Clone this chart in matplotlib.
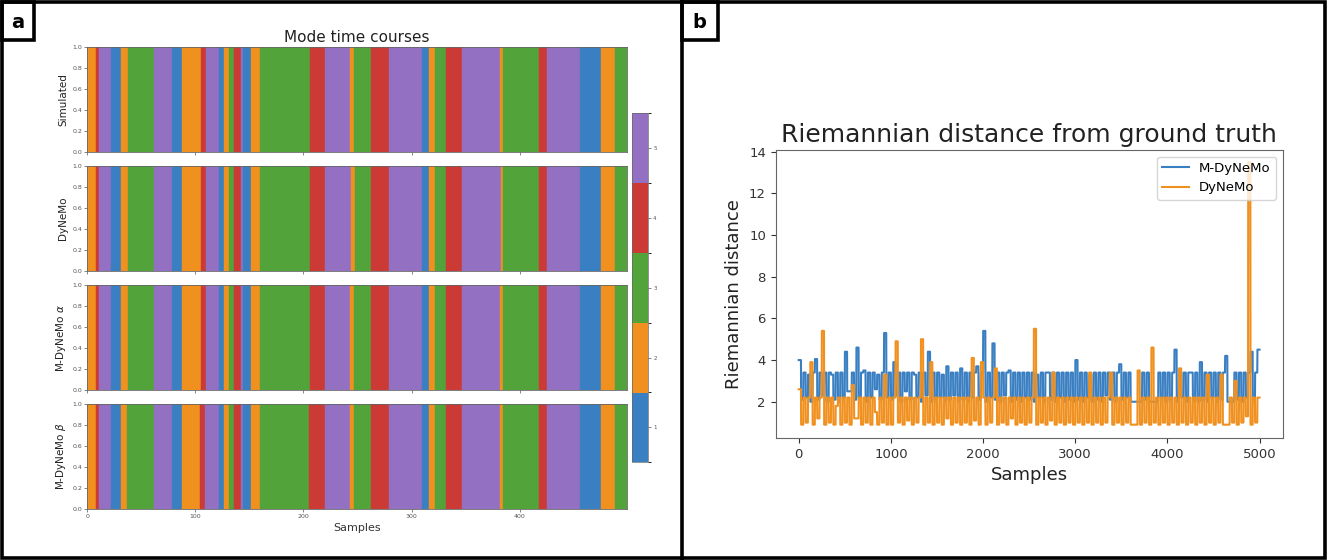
import numpy as np
import matplotlib
matplotlib.use("Agg")
import matplotlib.pyplot as plt
from matplotlib.colors import ListedColormap, BoundaryNorm
from matplotlib.cm import ScalarMappable
from matplotlib.patches import Rectangle
from matplotlib.lines import Line2D

# ---- panel a: mode time courses (500 samples, 5 modes) ----
n_samples = 500
mode_ticks = [1, 2, 3, 4, 5]
mode_colors = ["#3a7fc1", "#f0901f", "#52a43a", "#cc3a35", "#9470c2"]
panel_names = ["Simulated", "DyNeMo", r"M-DyNeMo $\alpha$", r"M-DyNeMo $\beta$"]

# active mode of each segment and the sample where each segment starts
seg_modes = [2, 4, 5, 1, 2, 3, 5, 1, 2, 4, 5, 1, 2, 3, 4, 5, 1, 2, 3, 4,
             5, 2, 3, 4, 5, 1, 2, 3, 4, 5, 2, 3, 4, 5, 1, 2, 3]
sim_starts = [0, 8, 11, 22, 31, 38, 62, 78, 88, 105, 110, 122, 126, 131, 136, 142, 144, 151, 160, 206,
              220, 243, 247, 262, 279, 310, 316, 322, 332, 347, 382, 385, 418, 425, 456, 475, 488]
dynemo_starts = [0, 8, 11, 22, 31, 38, 62, 78, 88, 105, 110, 122, 126, 131, 136, 142, 144, 151, 160, 206,
                 220, 244, 248, 262, 279, 310, 316, 322, 332, 347, 383, 385, 418, 425, 456, 475, 488]
alpha_starts = [0, 8, 11, 22, 31, 38, 62, 78, 88, 105, 110, 122, 126, 131, 136, 142, 144, 151, 160, 206,
                220, 243, 247, 262, 279, 310, 316, 322, 332, 347, 382, 385, 418, 425, 456, 475, 488]
beta_starts = [0, 8, 11, 22, 31, 37, 62, 78, 88, 104, 109, 122, 126, 131, 136, 142, 144, 151, 160, 205,
               220, 243, 247, 262, 279, 310, 316, 322, 332, 347, 382, 385, 418, 425, 456, 475, 488]
x_ticks_a = [0, 100, 200, 300, 400]

# ---- panel b: Riemannian distance, one value per 25-sample block ----
block = 25
mdynemo_dist = [
    4.0, 2.1, 3.4, 2.2, 3.3, 2.0, 3.4, 4.05, 2.1, 3.4, 2.3, 3.4, 2.0, 3.4, 3.3, 2.1, 3.4, 2.0, 3.4, 2.2,
    4.4, 2.5, 2.5, 3.4, 2.1, 4.6, 2.2, 3.4, 3.5, 2.0, 3.4, 2.2, 3.4, 2.6, 3.3, 2.1, 3.4, 5.3, 2.2, 3.4,
    2.1, 3.9, 2.3, 3.4, 2.0, 3.4, 2.5, 3.4, 2.1, 3.4, 3.3, 2.2, 3.4, 2.0, 3.4, 2.3, 4.4, 2.0, 3.4, 2.1,
    3.4, 2.2, 3.3, 2.0, 3.7, 2.1, 3.4, 2.3, 3.4, 2.0, 3.6, 2.1, 3.4, 2.0, 3.4, 2.2, 3.4, 3.7, 2.1, 3.4,
    5.4, 2.0, 3.4, 2.2, 4.8, 2.1, 3.4, 2.0, 3.4, 2.3, 3.4, 3.5, 2.0, 3.4, 2.1, 3.4, 2.0, 3.4, 2.2, 3.4,
    2.1, 3.4, 2.0, 3.3, 2.2, 3.4, 2.0, 3.4, 3.4, 2.1, 3.4, 2.0, 3.4, 2.2, 3.4, 2.0, 3.4, 2.1, 3.4, 2.0,
    4.0, 2.1, 3.4, 2.0, 3.4, 2.2, 3.3, 2.0, 3.4, 2.1, 3.4, 2.0, 3.4, 2.3, 3.4, 2.1, 3.4, 2.0, 3.4, 3.8,
    2.1, 3.4, 2.2, 3.4, 2.0, 2.0, 2.0, 2.0, 2.0, 3.4, 2.1, 3.4, 2.0, 2.0, 2.0, 2.0, 3.4, 2.2, 3.4, 2.0,
    3.4, 2.1, 3.4, 4.5, 2.0, 3.4, 2.2, 3.4, 2.0, 3.4, 3.4, 2.1, 3.4, 2.0, 3.9, 2.1, 3.4, 2.0, 3.4, 2.2,
    3.4, 2.0, 3.4, 2.1, 3.4, 4.2, 2.0, 2.0, 2.0, 3.4, 2.1, 3.4, 2.0, 3.4, 2.2, 3.4, 4.4, 2.1, 3.4, 4.5,
]
dynemo_dist = [
    2.6, 0.9, 2.2, 1.0, 2.2, 3.9, 0.9, 2.2, 1.2, 2.2, 5.4, 0.9, 2.2, 1.0, 2.2, 0.9, 1.8, 2.2, 0.9, 2.2,
    1.0, 2.2, 0.9, 2.8, 1.2, 1.2, 2.2, 0.9, 2.2, 1.0, 2.2, 0.9, 2.2, 1.5, 0.9, 2.2, 1.0, 3.3, 0.9, 2.2,
    0.9, 2.2, 4.9, 1.0, 2.2, 0.9, 2.2, 1.1, 2.2, 0.9, 2.2, 1.0, 2.2, 5.0, 0.9, 2.2, 1.0, 3.9, 0.9, 2.2,
    1.0, 2.2, 0.9, 2.2, 1.2, 2.2, 0.9, 2.2, 1.0, 2.2, 0.9, 2.2, 1.0, 2.2, 0.9, 4.1, 1.1, 2.2, 0.9, 3.9,
    2.2, 0.9, 2.2, 1.0, 2.2, 3.6, 0.9, 2.2, 1.0, 2.2, 0.9, 2.2, 1.2, 2.2, 0.9, 2.2, 1.0, 2.2, 0.9, 2.2,
    1.0, 2.2, 5.5, 0.9, 2.2, 1.0, 2.2, 0.9, 2.2, 1.1, 3.4, 0.9, 2.2, 1.0, 2.2, 0.9, 2.2, 1.0, 2.2, 0.9,
    2.2, 1.0, 2.2, 0.9, 2.2, 1.0, 3.4, 0.9, 2.2, 1.0, 2.2, 0.9, 2.2, 1.0, 2.2, 3.4, 0.9, 2.2, 1.0, 2.2,
    0.9, 2.2, 1.0, 2.2, 0.9, 0.9, 0.9, 3.5, 0.9, 2.2, 1.0, 2.2, 0.9, 4.6, 1.0, 2.2, 0.9, 2.2, 1.0, 2.2,
    0.9, 2.2, 1.0, 2.2, 0.9, 3.6, 1.0, 2.2, 0.9, 2.2, 1.0, 2.2, 0.9, 2.2, 1.0, 2.2, 0.9, 3.3, 1.0, 2.2,
    0.9, 2.2, 1.0, 3.3, 0.9, 0.9, 0.9, 2.2, 1.0, 3.0, 0.9, 2.2, 1.0, 2.2, 1.3, 13.5, 0.9, 2.2, 1.0, 2.2,
]

W, H = 1327, 560
fig = plt.figure(figsize=(W / 100, H / 100), dpi=100)


def px_box(x0, y0, x1, y1):
    # pixel box (top-left origin) -> figure fraction rect
    return [x0 / W, 1 - y1 / H, (x1 - x0) / W, (y1 - y0) / H]


# ---- panel a ----
fig.text(357 / W, 1 - 38 / H, "Mode time courses", ha="center", va="center", fontsize=11, color="#222")
tops = [47, 166, 285, 404]
all_starts = [sim_starts, dynemo_starts, alpha_starts, beta_starts]
for i, (name, starts) in enumerate(zip(panel_names, all_starts)):
    ax = fig.add_axes(px_box(87.3, tops[i], 626.7, tops[i] + 105))
    widths = np.diff(starts + [n_samples])
    colors = [mode_colors[m - 1] for m in seg_modes]
    ax.bar(starts, 1, width=widths, align="edge", color=colors, edgecolor=colors, linewidth=0.3)
    ax.set_xlim(0, n_samples - 1)
    ax.set_ylim(0, 1)
    ax.set_yticks(np.round(np.arange(0, 1.01, 0.2), 1))
    ax.set_xticks(x_ticks_a)
    ax.tick_params(labelsize=4.5, length=2, width=0.5, pad=1.5, colors="#555")
    ax.set_ylabel(name, fontsize=7.5, labelpad=3, color="#222")
    for s in ax.spines.values():
        s.set_linewidth(0.6)
        s.set_color("#666")
    if i < 3:
        ax.set_xticklabels([])
    else:
        ax.set_xlabel("Samples", fontsize=8, labelpad=3, color="#333")

cax = fig.add_axes(px_box(632.3, 113.3, 648.3, 462.3))
cmap = ListedColormap(mode_colors)
norm = BoundaryNorm(np.arange(0.5, 6, 1), cmap.N)
cb = fig.colorbar(ScalarMappable(norm=norm, cmap=cmap), cax=cax, ticks=mode_ticks)
cb.ax.tick_params(labelsize=4, length=2, width=0.5, pad=1.5, colors="#555")
cb.outline.set_linewidth(0.5)
cb.outline.set_edgecolor("#666")

# ---- panel b ----
ax2 = fig.add_axes(px_box(775.7, 150, 1282.7, 438))
t = np.arange(len(mdynemo_dist) * block)
ax2.plot(t, np.repeat(mdynemo_dist, block), color="#3a7fc1", lw=1.5, label="M-DyNeMo")
ax2.plot(t, np.repeat(dynemo_dist, block), color="#f0901f", lw=1.5, label="DyNeMo")
ax2.set_xlim(-250, 5250)
ax2.set_ylim(0.26, 14.08)
ax2.set_yticks([2, 4, 6, 8, 10, 12, 14])
ax2.set_xticks([0, 1000, 2000, 3000, 4000, 5000])
ax2.tick_params(labelsize=9.5, colors="#333")
for s in ax2.spines.values():
    s.set_color("#666")
ax2.set_title("Riemannian distance from ground truth", fontsize=18, color="#222")
ax2.set_xlabel("Samples", fontsize=13, color="#222")
ax2.set_ylabel("Riemannian distance", fontsize=13, color="#222")
ax2.legend(loc="upper right", fontsize=9.5)

# ---- panel frames and labels ----
lw = 2.6
fig.add_artist(Rectangle((2 / W, 2 / H), 1 - 4 / W, 1 - 4 / H, transform=fig.transFigure,
                         fill=False, ec="black", lw=lw))
fig.add_artist(Line2D([681.5 / W, 681.5 / W], [0, 1], transform=fig.transFigure, color="black", lw=lw))
for x0, x1, letter in [(2, 34, "a"), (681.5, 718, "b")]:
    fig.add_artist(Rectangle((x0 / W, 1 - 40 / H), (x1 - x0) / W, 38 / H, transform=fig.transFigure,
                             fill=False, ec="black", lw=lw))
    fig.text((x0 + x1) / 2 / W, 1 - 22 / H, letter, ha="center", va="center",
             fontsize=14, fontweight="bold")

fig.savefig("out.png", dpi=100)
